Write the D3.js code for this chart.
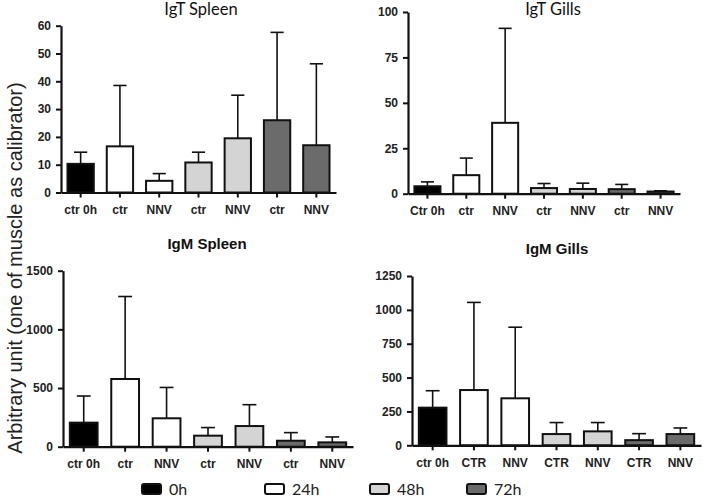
<!DOCTYPE html>
<html>
<head>
<meta charset="utf-8">
<script src="https://cdn.jsdelivr.net/npm/d3@7"></script>
<style>
  body { margin: 0; background: #fff; }
  .tick text { font-family: "Liberation Sans Narrow", "Arial Narrow", "Liberation Sans", sans-serif; font-weight: bold; font-size: 12px; fill: #222; }
</style>
</head>
<body>
<div id="chart"></div>
<script>
// Groups (time point per bar)
const groups = ["0h", "24h", "48h", "72h"];
const groupColors = ["#000000", "#ffffff", "#d4d4d4", "#6b6b6b"];
const barGroups = ["0h", "24h", "24h", "48h", "48h", "72h", "72h"];

// Panel categories
const labelsIgTSpleen = ["ctr 0h", "ctr", "NNV", "ctr", "NNV", "ctr", "NNV"];
const labelsIgTGills = ["Ctr 0h", "ctr", "NNV", "ctr", "NNV", "ctr", "NNV"];
const labelsIgMSpleen = ["ctr 0h", "ctr", "NNV", "ctr", "NNV", "ctr", "NNV"];
const labelsIgMGills = ["ctr 0h", "CTR", "NNV", "CTR", "NNV", "CTR", "NNV"];

// Means and upper error values (mean + SD)
const meanIgTSpleen = [10.3, 16.6, 4.2, 10.8, 19.5, 26, 17];
const errIgTSpleen = [14.5, 38.5, 6.8, 14.5, 35, 57.6, 46.3];
const meanIgTGills = [4.1, 10.2, 39, 3.1, 2.6, 2.5, 1.2];
const errIgTGills = [6.5, 19.6, 91, 5.6, 5.8, 5.1, 1.6];
const meanIgMSpleen = [205, 577, 242, 94, 176, 51, 37];
const errIgMSpleen = [432, 1280, 505, 163, 358, 120, 83];
const meanIgMGills = [278, 408, 347, 83, 103, 38, 83];
const errIgMGills = [403, 1055, 872, 168, 168, 86, 128];

// Y ticks
const ticksIgTSpleen = [0, 10, 20, 30, 40, 50, 60];
const ticksIgTGills = [0, 25, 50, 75, 100];
const ticksIgMSpleen = [0, 500, 1000, 1500];
const ticksIgMGills = [0, 250, 500, 750, 1000, 1250];

const width = 709, height = 502;

const svg = d3.select("#chart")
  .append("svg")
  .attr("width", width)
  .attr("height", height);

const color = d3.scaleOrdinal().domain(groups).range(groupColors);

const panels = [
  { title: "IgT Spleen", bold: false, labels: labelsIgTSpleen, mean: meanIgTSpleen, err: errIgTSpleen,
    ticks: ticksIgTSpleen, x: [61, 336], y: [192.5, 25.7], tx: 201, ty: 15 },
  { title: "IgT Gills", bold: false, labels: labelsIgTGills, mean: meanIgTGills, err: errIgTGills,
    ticks: ticksIgTGills, x: [408, 680], y: [193.7, 12], tx: 553, ty: 15 },
  { title: "IgM Spleen", bold: true, labels: labelsIgMSpleen, mean: meanIgMSpleen, err: errIgMSpleen,
    ticks: ticksIgMSpleen, x: [63, 353], y: [446.7, 270.7], tx: 207, ty: 249 },
  { title: "IgM Gills", bold: true, labels: labelsIgMGills, mean: meanIgMGills, err: errIgMGills,
    ticks: ticksIgMGills, x: [412, 701], y: [445.3, 276], tx: 557, ty: 254 }
];

panels.forEach(function(p) {
  const g = svg.append("g");
  const idx = d3.range(p.labels.length);

  const xScale = d3.scaleBand()
    .domain(idx)
    .range(p.x)
    .paddingInner(0.33)
    .paddingOuter(0.165);

  const yScale = d3.scaleLinear()
    .domain([0, d3.max(p.ticks)])
    .range(p.y);

  // Error bars (upper only)
  const ew = xScale.bandwidth() * 0.5;
  idx.forEach(function(i) {
    const cx = xScale(i) + xScale.bandwidth() / 2;
    g.append("line")
      .attr("x1", cx).attr("x2", cx)
      .attr("y1", yScale(p.mean[i])).attr("y2", yScale(p.err[i]))
      .attr("stroke", "#111").attr("stroke-width", 1.6);
    g.append("line")
      .attr("x1", cx - ew / 2).attr("x2", cx + ew / 2)
      .attr("y1", yScale(p.err[i])).attr("y2", yScale(p.err[i]))
      .attr("stroke", "#111").attr("stroke-width", 1.6);
  });

  // Bars
  g.selectAll("rect.bar")
    .data(idx)
    .enter()
    .append("rect")
    .attr("class", "bar")
    .attr("x", i => xScale(i))
    .attr("y", i => yScale(p.mean[i]))
    .attr("width", xScale.bandwidth())
    .attr("height", i => p.y[0] - yScale(p.mean[i]))
    .attr("fill", i => color(barGroups[i]))
    .attr("stroke", "#111")
    .attr("stroke-width", 2);

  // Axes
  const yAxis = g.append("g")
    .attr("transform", `translate(${p.x[0]},0)`)
    .call(d3.axisLeft(yScale).tickValues(p.ticks).tickFormat(d3.format("d"))
      .tickSize(5).tickSizeOuter(0).tickPadding(5));

  const xAxis = g.append("g")
    .attr("transform", `translate(0,${p.y[0]})`)
    .call(d3.axisBottom(xScale).tickFormat(i => p.labels[i]).tickSize(5).tickSizeOuter(0).tickPadding(8));

  [xAxis, yAxis].forEach(function(a) {
    a.select(".domain").attr("stroke", "#111").attr("stroke-width", 2.2);
    a.selectAll(".tick line").attr("stroke", "#111").attr("stroke-width", 2);
  });

  // Title
  g.append("text")
    .attr("x", p.tx)
    .attr("y", p.ty)
    .attr("text-anchor", "middle")
    .style("font-family", p.bold ? "'Liberation Sans Narrow', 'Arial Narrow', sans-serif" : "Lato, 'Open Sans', sans-serif")
    .style("font-weight", p.bold ? "bold" : "normal")
    .style("font-size", p.bold ? "15px" : "16.5px")
    .style("fill", "#111")
    .text(p.title);
});

// Shared y-axis label
svg.append("text")
  .attr("transform", "translate(22,268) rotate(-90)")
  .attr("text-anchor", "middle")
  .style("font-family", "'Liberation Sans', Arial, sans-serif")
  .style("font-size", "20px")
  .style("fill", "#222")
  .text("Arbitrary unit (one of muscle as calibrator)");

// Legend
const legendX = [142, 265, 370, 467];
const legend = svg.append("g");
groups.forEach(function(gname, i) {
  legend.append("rect")
    .attr("x", legendX[i])
    .attr("y", 484)
    .attr("width", 19)
    .attr("height", 10)
    .attr("rx", 2)
    .attr("fill", color(gname))
    .attr("stroke", "#111")
    .attr("stroke-width", 2);
  legend.append("text")
    .attr("x", legendX[i] + 27)
    .attr("y", 495)
    .style("font-family", "Lato, 'Open Sans', sans-serif")
    .style("font-size", "16px")
    .style("fill", "#222")
    .text(gname);
});
</script>
</body>
</html>
